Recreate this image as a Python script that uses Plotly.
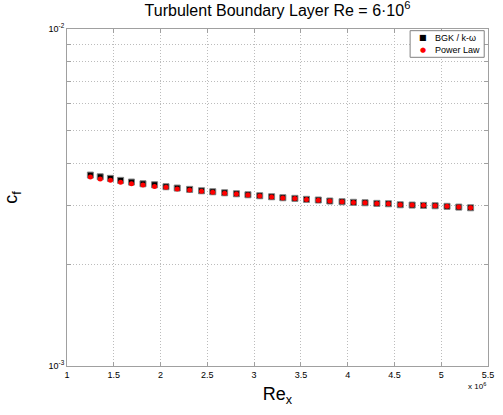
import plotly.graph_objects as go

# Re_x in units of 1e6
re_x = [1.250, 1.355, 1.464, 1.573, 1.689, 1.812, 1.936, 2.058, 2.178, 2.311,
        2.438, 2.558, 2.685, 2.811, 2.934, 3.060, 3.187, 3.307, 3.436, 3.560,
        3.686, 3.809, 3.940, 4.062, 4.186, 4.312, 4.436, 4.562, 4.689, 4.811,
        4.935, 5.062, 5.188, 5.314]

cf_bgk = [3.686e-3, 3.643e-3, 3.604e-3, 3.555e-3, 3.514e-3, 3.473e-3, 3.450e-3,
          3.404e-3, 3.373e-3, 3.343e-3, 3.311e-3, 3.289e-3, 3.266e-3, 3.244e-3,
          3.222e-3, 3.200e-3, 3.178e-3, 3.157e-3, 3.144e-3, 3.123e-3, 3.108e-3,
          3.087e-3, 3.072e-3, 3.060e-3, 3.051e-3, 3.038e-3, 3.030e-3, 3.009e-3,
          3.003e-3, 2.997e-3, 2.989e-3, 2.977e-3, 2.962e-3, 2.948e-3]

cf_power = [3.636e-3, 3.586e-3, 3.555e-3, 3.507e-3, 3.473e-3, 3.443e-3, 3.412e-3,
            3.389e-3, 3.349e-3, 3.330e-3, 3.300e-3, 3.280e-3, 3.258e-3, 3.237e-3,
            3.216e-3, 3.195e-3, 3.174e-3, 3.153e-3, 3.141e-3, 3.120e-3, 3.106e-3,
            3.085e-3, 3.070e-3, 3.058e-3, 3.050e-3, 3.037e-3, 3.029e-3, 3.009e-3,
            3.003e-3, 2.997e-3, 2.989e-3, 2.977e-3, 2.962e-3, 2.948e-3]

series_names = ["BGK / k-ω", "Power Law"]

x_ticks = [1, 1.5, 2, 2.5, 3, 3.5, 4, 4.5, 5, 5.5]
x_ticktext = ["1", "1.5", "2", "2.5", "3", "3.5", "4", "4.5", "5", "5.5"]
y_ticks = [1e-3, 2e-3, 3e-3, 4e-3, 5e-3, 6e-3, 7e-3, 8e-3, 9e-3, 1e-2]
y_ticktext = ["10<sup>-3</sup>", "", "", "", "", "", "", "", "", "10<sup>-2</sup>"]

FONT = "Liberation Sans, Arial, sans-serif"

fig = go.Figure()
fig.add_trace(go.Scatter(
    x=re_x, y=cf_bgk, mode="markers", name=series_names[0],
    marker=dict(symbol="square", size=6, color="black",
                line=dict(color="#808080", width=1))))
fig.add_trace(go.Scatter(
    x=re_x, y=cf_power, mode="markers", name=series_names[1],
    marker=dict(symbol="circle", size=5, color="red", line=dict(width=0))))

axis_common = dict(
    showline=True, linecolor="#a0a0a0", linewidth=1, mirror="ticks",
    ticks="inside", ticklen=4, tickcolor="#a0a0a0",
    showgrid=True, gridcolor="#bcbcbc", griddash="1px,2px", gridwidth=1,
    zeroline=False, tickfont=dict(family=FONT, size=9, color="black"),
)

fig.update_layout(
    width=503, height=415,
    margin=dict(l=67, r=9, t=29, b=49),
    paper_bgcolor="white", plot_bgcolor="white",
    font=dict(family=FONT, color="black"),
    title=dict(text="Turbulent Boundary Layer Re = 6·10<sup>6</sup>",
               x=0.5, xref="paper", xanchor="center",
               y=0.975, yref="container", yanchor="middle",
               font=dict(family=FONT, size=16, color="black")),
    xaxis=dict(range=[1, 5.5], tickvals=x_ticks, ticktext=x_ticktext,
               title=dict(text="Re<sub>x</sub>", font=dict(family=FONT, size=18),
                          standoff=8),
               **axis_common),
    yaxis=dict(type="log", range=[-3, -2], tickvals=y_ticks, ticktext=y_ticktext,
               title=dict(text="c<sub>f</sub>", font=dict(family=FONT, size=18),
                          standoff=26),
               **axis_common),
    showlegend=False,
)

# compact legend box (MATLAB-style)
fig.add_shape(type="rect", xref="paper", yref="paper",
              x0=0.815, x1=0.991, y0=0.916, y1=0.995,
              line=dict(color="#808080", width=1), fillcolor="white", layer="above")
fig.add_annotation(text="■", xref="paper", yref="paper", x=0.845, y=0.9735,
                   xanchor="center", yanchor="middle", showarrow=False,
                   font=dict(family="DejaVu Sans", size=8, color="black"))
fig.add_annotation(text="●", xref="paper", yref="paper", x=0.845, y=0.9385,
                   xanchor="center", yanchor="middle", showarrow=False,
                   font=dict(family="DejaVu Sans", size=7, color="red"))
fig.add_annotation(text=series_names[0], xref="paper", yref="paper", x=0.87, y=0.9735,
                   xanchor="left", yanchor="middle", showarrow=False,
                   font=dict(family=FONT, size=9, color="black"))
fig.add_annotation(text=series_names[1], xref="paper", yref="paper", x=0.87, y=0.9385,
                   xanchor="left", yanchor="middle", showarrow=False,
                   font=dict(family=FONT, size=9, color="black"))

fig.add_annotation(text="x 10<sup>6</sup>", xref="paper", yref="paper",
                   x=1.0, y=-0.04, xanchor="right", yanchor="top",
                   showarrow=False, font=dict(family=FONT, size=8, color="black"))

fig.write_html("out.html")
